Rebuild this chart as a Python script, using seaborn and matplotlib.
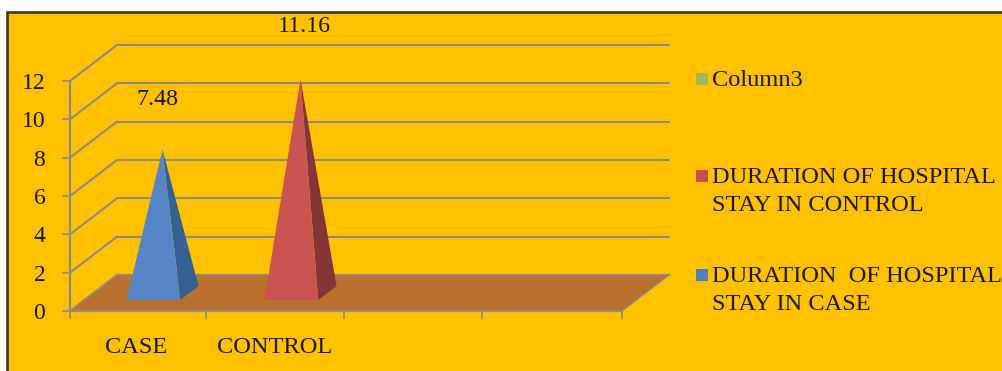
import matplotlib
matplotlib.use("Agg")
import matplotlib.pyplot as plt
from matplotlib.patches import Polygon, Rectangle
from matplotlib.transforms import ScaledTranslation
import pandas as pd
import seaborn as sns

categories = ["CASE", "CONTROL"]
durations = [7.48, 11.16]
value_labels = ["7.48", "11.16"]
y_ticks = [0, 2, 4, 6, 8, 10, 12]
legend_labels = [
    "Column3",
    "DURATION OF HOSPITAL\nSTAY IN CONTROL",
    "DURATION  OF HOSPITAL\nSTAY IN CASE",
]

W, H = 1003, 371
BG = "#FFC000"
GRID = "#8E8E80"
FLOOR = "#B9702F"
INK = "#1C1800"
FRONT = ["#5686C6", "#CA5450"]
SIDE = ["#376092", "#843537"]
SWATCH = ["#9BBB59", "#C0504D", "#4F81BD"]

sns.set_theme(style="white")
plt.rcParams["font.family"] = ["Liberation Serif", "DejaVu Serif"]

fig = plt.figure(figsize=(W / 100, H / 100), dpi=100, facecolor="white")
fig.patches.append(Rectangle((7.5 / W, -0.1), 1.2, 1.1 - 11.5 / H, transform=fig.transFigure,
                             facecolor=BG, edgecolor="#3A3A2A", linewidth=1.9, zorder=-5))

# plot area is the front plane of the 3D box
ax = fig.add_axes([70 / W, 1 - 311 / H, 552 / W, 230 / H])
ax.patch.set_visible(False)

frame = pd.DataFrame({"group": categories, "days": durations})
sns.barplot(data=frame, x="group", y="days", width=0.39, color=FRONT[0], errorbar=None, ax=ax)
ax.set_xlim(-0.5, 3.5)
ax.set_ylim(0, 12)
sns.despine(ax=ax, top=True, right=True, left=True, bottom=True)

# shear that pushes a point back into the box (depth 0 = front, 1 = back)
DX = 47 / 138
DY = 36 / (230 / 12)


def project(x, v, depth):
    return x + depth * DX, v + depth * DY


x0, x1 = -0.5, 3.5
line = dict(color=GRID, lw=1.5, solid_capstyle="round", clip_on=False, zorder=1)

# floor
ax.add_patch(Polygon([project(x0, 0, 0), project(x1, 0, 0), project(x1, 0, 1), project(x0, 0, 1)],
                     closed=True, facecolor=FLOOR, edgecolor=GRID, lw=1.0, clip_on=False, zorder=1.5))

# back wall gridlines and the slanted side wall
for v in y_ticks:
    ax.plot(*zip(project(x0, v, 1), project(x1, v, 1)), **line)
    ax.plot(*zip(project(x0, v, 0), project(x0, v, 1)), **line)

# front axis lines
ax.plot([x0, x1], [0, 0], color=GRID, lw=1.6, clip_on=False, zorder=2)
ax.plot([x0, x0], [0, 12], color=GRID, lw=1.6, clip_on=False, zorder=2)

# pyramids built on the bars seaborn laid out
for i, bar in enumerate(list(ax.patches)[:len(durations)]):
    left, right, height = bar.get_x(), bar.get_x() + bar.get_width(), bar.get_height()
    bar.set_visible(False)
    mid = (left + right) / 2
    near, far = 0.306, 0.694
    apex = project(mid, height, 0.5)
    ax.add_patch(Polygon([project(right, 0, near), project(right, 0, far), apex], closed=True,
                         facecolor=SIDE[i], edgecolor="none", clip_on=False, zorder=3))
    ax.add_patch(Polygon([project(left, 0, near), project(right, 0, near), apex], closed=True,
                         facecolor=FRONT[i], edgecolor="none", clip_on=False, zorder=4))
    shift_x, shift_y = (-5, 50) if i == 0 else (4, 53)
    ax.annotate(value_labels[i], xy=apex, xytext=(shift_x * 0.72, shift_y * 0.72), textcoords="offset points",
                ha="center", va="center", fontsize=17.2, color=INK, annotation_clip=False)

# axes furniture
ax.set_xlabel("")
ax.set_ylabel("")
ax.set_yticks(y_ticks)
ax.set_xticks(range(len(categories)))
ax.set_xticklabels(categories)
ax.set_xticks([-0.5, 0.486, 1.486, 2.486, 3.5], minor=True)
ax.tick_params(axis="x", which="major", length=0, pad=19, labelsize=17.6, labelcolor=INK)
ax.tick_params(axis="x", which="minor", length=5.8, width=1.2, color=GRID, bottom=True)
ax.tick_params(axis="y", length=5.8, width=1.2, color=GRID, pad=12, labelsize=17, labelcolor=INK, left=True)
for tick in ax.get_xticklines(minor=True) + ax.get_yticklines():
    tick.set_clip_on(False)
nudge = ScaledTranslation(-2.5 / 100, 0, fig.dpi_scale_trans)
for label in ax.get_xticklabels():
    label.set_transform(label.get_transform() + nudge)

# legend entries, swatch plus wrapped label
for label, colour, y_px in zip(legend_labels, SWATCH, [79, 176, 275]):
    fig.patches.append(Rectangle((696 / W, 1 - (y_px + 6) / H), 12 / W, 12 / H,
                                 transform=fig.transFigure, facecolor=colour, edgecolor="none"))
    fig.text(712 / W, 1 - (y_px - 9) / H, label, ha="left", va="top", fontsize=17.6,
             color=INK, linespacing=1.42)

fig.savefig("out.png", dpi=100, facecolor="white")
